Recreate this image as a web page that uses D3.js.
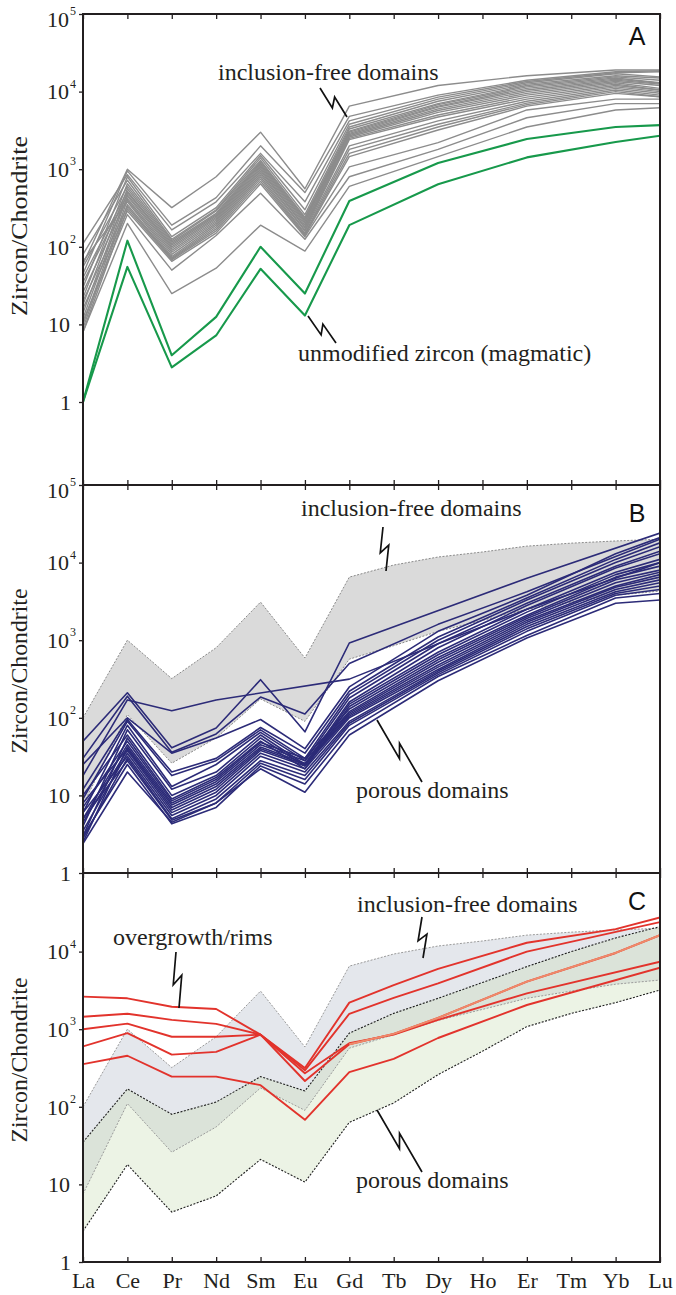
<!DOCTYPE html>
<html>
<head>
<meta charset="utf-8">
<script src="https://cdn.jsdelivr.net/npm/d3@7"></script>
<style>
  body { margin: 0; background: #fff; }
</style>
</head>
<body>
<svg id="viz"></svg>
<script>
// chondrite-normalised REE, element order along the x axis
var ree = ["La","Ce","Pr","Nd","Sm","Eu","Gd","Tb","Dy","Ho","Er","Tm","Yb","Lu"];
var _ = null; // element not plotted for that spot (segment runs straight across)

// panel A - inclusion-free domains (grey)
var inclusionFreeA = [
  [60, 1000, 320, 800, 3000, 560, 6500, _, 12000, _, 16000, _, 19000, 19000],
  [45, 950, 190, 430, 2000, 500, 4800, _, 9000, _, 14000, _, 18000, 18500],
  [110, 850, 165, 380, 1600, 380, 4200, _, 8500, _, 13500, _, 17500, 18000],
  [30, 800, 135, 320, 1500, 300, 3800, _, 8000, _, 13000, _, 17000, 15500],
  [80, 720, 125, 300, 1400, 260, 3500, _, 7500, _, 12500, _, 16000, 15000],
  [22, 650, 120, 290, 1300, 240, 3300, _, 7000, _, 12000, _, 15500, 14000],
  [55, 600, 115, 270, 1250, 230, 3100, _, 6800, _, 11500, _, 15000, 13000],
  [18, 560, 110, 260, 1200, 220, 3000, _, 6500, _, 11000, _, 14500, 12800],
  [40, 520, 105, 250, 1150, 210, 2900, _, 6300, _, 10500, _, 14000, 12500],
  [14, 500, 100, 240, 1100, 200, 2800, _, 6000, _, 10000, _, 13500, 12000],
  [35, 470, 95, 230, 1050, 190, 2700, _, 5700, _, 9500, _, 13000, 11000],
  [12, 450, 90, 220, 1000, 180, 2600, _, 5400, _, 9000, _, 12500, 10500],
  [26, 420, 85, 210, 950, 175, 2500, _, 5000, _, 8500, _, 12000, 10500],
  [10, 400, 80, 200, 900, 165, 2400, _, 4700, _, 8000, _, 11500, 10000],
  [65, 380, 75, 190, 850, 160, 2000, _, 4200, _, 7500, _, 11000, 9500],
  [9, 350, 72, 180, 800, 150, 1800, _, 3800, _, 7100, _, 10500, 9000],
  [20, 330, 70, 170, 750, 145, 1600, _, 3500, _, 6800, _, 10000, 8600],
  [8, 310, 68, 160, 700, 140, 1450, _, 3200, _, 6500, _, 9500, 8600],
  [16, 290, 65, 150, 650, 135, 1070, _, 2200, _, 5800, _, 8000, 8000],
  [11, 260, 50, 140, 490, 125, 800, _, 1800, _, 4600, _, 7000, 7000],
  [8, 200, 25, 53, 190, 88, 600, _, 1450, _, 3500, _, 5800, 6200]
];

// panel A - unmodified (magmatic) zircon (green)
var unmodifiedA = [
  [1, 120, 4, 12.5, 100, 25, 390, _, 1200, _, 2450, _, 3500, 3700],
  [1, 55, 2.8, 7.2, 52, 13, 190, _, 640, _, 1420, _, 2240, 2700]
];

// panel B - porous domains (navy)
var porousB = [
  [18, 170, 123, 170, _, _, 315, _, 900, _, 2500, _, _, 10000],
  [50, 210, 41, 74, 310, 66, 920, _, _, _, 6300, _, _, 24000],
  [30, 190, 36, 62, 185, 112, 500, _, 1600, _, 4200, _, 12000, 20000],
  [25, 100, 35, 55, 95, 40, 250, _, 1300, _, 3800, _, 13000, 21000],
  [12, 95, 20, 30, 75, 35, 220, _, 1100, _, 3500, _, 11000, 18000],
  [9, 90, 18, 28, 70, 30, 200, _, 1000, _, 3300, _, 10000, 16000],
  [6, 80, 13, 25, 65, 28, 180, _, 900, _, 3000, _, 9000, 14000],
  [4, 70, 12, 20, 60, 25, 160, _, 800, _, 2800, _, 8500, 13000],
  [10, 60, 10, 18, 55, 24, 150, _, 700, _, 2500, _, 7500, 11000],
  [3, 55, 9, 17, 50, 22, 140, _, 650, _, 2300, _, 7000, 10000],
  [7, 50, 8.5, 16, 48, 30, 130, _, 600, _, 2100, _, 6500, 9000],
  [5, 45, 8, 15, 45, 28, 120, _, 560, _, 2000, _, 6000, 8000],
  [2.5, 42, 7.5, 14, 42, 26, 115, _, 520, _, 1900, _, 5500, 7500],
  [8, 40, 7, 13, 40, 25, 110, _, 480, _, 1800, _, 5000, 7000],
  [4.5, 38, 6.5, 12, 38, 24, 105, _, 450, _, 1700, _, 4800, 6500],
  [3.5, 35, 6, 11, 35, 22, 100, _, 420, _, 1600, _, 4500, 6000],
  [6, 32, 5.5, 10, 32, 20, 90, _, 400, _, 1500, _, 4200, 5500],
  [2.8, 30, 5, 9, 28, 18, 85, _, 380, _, 1400, _, 4000, 5000],
  [5, 28, 4.8, 8, 26, 16, 80, _, 360, _, 1300, _, 3800, 4500],
  [3, 25, 4.3, 7, 24, 14, 70, _, 340, _, 1150, _, 3500, 4000],
  [2.4, 20, 4.5, 8, 22, 11, 60, _, 300, _, 1070, _, 3000, 3300]
];

// envelopes of the two domain types (panels B and C)
var incFreeUpper = [100, 1000, 320, 800, 3100, 590, 6500, 9300, 11800, 13700, 16300, 17800, 19000, 20000];
var incFreeLower = [7.5, 110, 26, 55, 175, 90, 570, 850, 1300, 1800, 2500, 3100, 3800, 4300];
var porousUpper = [35, 170, 80, 115, 245, 160, 890, 1600, 2500, 4000, 6400, 10000, 15000, 21000];
var porousLower = [2.5, 18, 4.4, 7.1, 21, 10.7, 63, 112, 260, 520, 1080, 1600, 2200, 3200];

// panel C - overgrowth / rims (red)
var rimsC = [
  [2630, 2500, 1950, 1820, 850, 316, 2200, 3700, 6000, _, 13000, _, 19500, 27500],
  [1450, 1580, 1320, 1170, 850, 295, 1580, 2530, 3900, _, 10000, _, _, 24000],
  [1000, 1180, 800, 800, 850, 270, 660, 850, 1320, _, 2900, _, _, 7400],
  [600, 890, 470, 510, 850, 215, 640, 870, 1400, _, 4100, _, 9600, 16300],
  [355, 455, 245, 245, 190, 68, 280, 415, 770, _, 2050, _, _, 6200]
];
var salmonRim = 3;        // this rim is drawn lighter from Gd on
var salmonFrom = "Gd";

var yTicksA = [1e5, 1e4, 1e3, 100, 10, 1];
var yTicksB = [1e5, 1e4, 1e3, 100, 10, 1];
var yTicksC = [1e4, 1e3, 100, 10, 1];

var SERIF = "'Liberation Serif', 'DejaVu Serif', serif";
var SANS = "'Liberation Sans', Arial, sans-serif";

var width = 676, height = 1295;
var LEFT = 83, RIGHT = 660;

var svg = d3.select("#viz").attr("width", width).attr("height", height)
    .attr("font-family", SERIF);
svg.append("rect").attr("width", width).attr("height", height).attr("fill", "#fff");

var x = d3.scalePoint().domain(ree).range([LEFT, RIGHT]);

function series(vals) {
    return vals.map(function(v, i) { return {el: ree[i], v: v}; })
               .filter(function(d) { return d.v != null; });
}

var panels = [
    {id: "A", top: 14, bottom: 485, one: 402, ticks: yTicksA, title: [27, 226], titleSize: 24, titleLen: 180},
    {id: "B", top: 485, bottom: 873, one: 873, ticks: yTicksB, title: [27, 671], titleSize: 23, titleLen: 165},
    {id: "C", top: 873, bottom: 1262, one: 1262, ticks: yTicksC, title: [27, 1060], titleSize: 23, titleLen: 165}
];

panels.forEach(function(p) {
    p.y = d3.scaleLog().domain([1, 1e5]).range([p.one, p.one - 5 * 77.6]);
    p.line = d3.line().x(function(d) { return x(d.el); }).y(function(d) { return p.y(d.v); });
    p.g = svg.append("g").attr("class", "panel-" + p.id);
    svg.append("clipPath").attr("id", "clip" + p.id)
        .append("rect").attr("x", LEFT).attr("y", p.top)
        .attr("width", RIGHT - LEFT).attr("height", p.bottom - p.top);
    p.plot = p.g.append("g").attr("clip-path", "url(#clip" + p.id + ")");
});

var A = panels[0], B = panels[1], C = panels[2];

// ---- panel A
A.plot.append("g").selectAll("path")
    .data(inclusionFreeA).join("path")
    .attr("d", function(d) { return A.line(series(d)); })
    .attr("fill", "none").attr("stroke", "#8c8c8c").attr("stroke-width", 1.4)
    .attr("stroke-linejoin", "round");

A.plot.append("g").selectAll("path")
    .data(unmodifiedA).join("path")
    .attr("d", function(d) { return A.line(series(d)); })
    .attr("fill", "none").attr("stroke", "#17994b").attr("stroke-width", 2.1)
    .attr("stroke-linejoin", "round");

// ---- envelopes
function band(p, upper, lower) {
    return d3.area()
        .x(function(d, i) { return x(ree[i]); })
        .y0(function(d, i) { return p.y(lower[i]); })
        .y1(function(d, i) { return p.y(upper[i]); })(upper);
}
function edge(p, vals) { return p.line(series(vals)); }

// ---- panel B
B.plot.append("path").attr("d", band(B, incFreeUpper, incFreeLower)).attr("fill", "#dadada");
[incFreeUpper, incFreeLower].forEach(function(v) {
    B.plot.append("path").attr("d", edge(B, v)).attr("fill", "none")
        .attr("stroke", "#8a8a8a").attr("stroke-width", 1).attr("stroke-dasharray", "2,1.5");
});
B.plot.append("g").selectAll("path")
    .data(porousB).join("path")
    .attr("d", function(d) { return B.line(series(d)); })
    .attr("fill", "none").attr("stroke", "#2c2b78").attr("stroke-width", 1.6)
    .attr("stroke-linejoin", "round");

// ---- panel C
C.plot.append("path").attr("d", band(C, incFreeUpper, incFreeLower)).attr("fill", "#e4e7ec");
// translucent green so the overlap with the inclusion-free field turns greener
C.plot.append("path").attr("d", band(C, porousUpper, porousLower))
    .attr("fill", "#c9dfb6").attr("fill-opacity", 0.36);
[incFreeUpper, incFreeLower].forEach(function(v) {
    C.plot.append("path").attr("d", edge(C, v)).attr("fill", "none")
        .attr("stroke", "#9a9a9a").attr("stroke-width", 1).attr("stroke-dasharray", "2,1.5");
});
[porousUpper, porousLower].forEach(function(v) {
    C.plot.append("path").attr("d", edge(C, v)).attr("fill", "none")
        .attr("stroke", "#1e1e1e").attr("stroke-width", 1.1).attr("stroke-dasharray", "2,1.5");
});
C.plot.append("g").selectAll("path")
    .data(rimsC).join("path")
    .attr("d", function(d) { return C.line(series(d)); })
    .attr("fill", "none").attr("stroke", "#e2332c").attr("stroke-width", 1.9)
    .attr("stroke-linejoin", "round");
var salmonPts = series(rimsC[salmonRim]).filter(function(d) { return ree.indexOf(d.el) >= ree.indexOf(salmonFrom); });
C.plot.append("path").attr("d", C.line(salmonPts))
    .attr("fill", "none").attr("stroke", "#ef8a6a").attr("stroke-width", 1.9);

// ---- frames, ticks, labels
function styleAxis(a) {
    a.select(".domain").remove();
    a.selectAll("line").attr("stroke", "#231f20").attr("stroke-width", 1.3);
}

panels.forEach(function(p) {
    var g = p.g;
    g.append("g").attr("transform", "translate(0," + p.bottom + ")")
        .call(d3.axisBottom(x).tickSize(-5).tickFormat("")).call(styleAxis);
    g.append("g").attr("transform", "translate(0," + p.top + ")")
        .call(d3.axisTop(x).tickSize(-5).tickFormat("")).call(styleAxis);
    g.append("g").attr("transform", "translate(" + LEFT + ",0)")
        .call(d3.axisLeft(p.y).tickValues(p.ticks).tickSize(4).tickFormat("")).call(styleAxis);

    g.append("rect").attr("x", LEFT).attr("y", p.top)
        .attr("width", RIGHT - LEFT).attr("height", p.bottom - p.top)
        .attr("fill", "none").attr("stroke", "#231f20").attr("stroke-width", 2);

    p.ticks.forEach(function(v) {
        var e = Math.round(Math.log10(v));
        var ty = p.y(v);
        if (ty < p.top + 4) ty = p.top + 5;
        if (e >= 2) {
            g.append("text").attr("x", 69).attr("y", ty).attr("dy", "0.35em")
                .attr("text-anchor", "end").attr("font-size", 22).attr("fill", "#231f20").text("10");
            g.append("text").attr("x", 70).attr("y", ty - 4)
                .attr("font-size", 12).attr("fill", "#231f20").text(e);
        } else {
            g.append("text").attr("x", e == 1 ? 70 : 71).attr("y", ty).attr("dy", "0.35em")
                .attr("text-anchor", "end").attr("font-size", 22).attr("fill", "#231f20")
                .text(e == 1 ? "10" : "1");
        }
    });

    g.append("text")
        .attr("transform", "translate(" + p.title[0] + "," + p.title[1] + ") rotate(-90)")
        .attr("text-anchor", "middle").attr("font-size", p.titleSize).attr("fill", "#231f20")
        .attr("textLength", p.titleLen).attr("lengthAdjust", "spacingAndGlyphs")
        .text("Zircon/Chondrite");

    g.append("text").attr("x", 637).attr("y", p.top + (p.id == "A" ? 31 : 37))
        .attr("text-anchor", "middle").attr("font-size", 25).attr("fill", "#111")
        .attr("font-family", SANS)
        .text(p.id);
});

// element names under the last panel
svg.append("g").attr("transform", "translate(0," + C.bottom + ")")
    .call(d3.axisBottom(x).tickSize(0).tickPadding(10))
    .call(function(a) {
        a.select(".domain").remove();
        a.attr("font-family", SERIF).attr("font-size", 22);
        a.selectAll("text").attr("fill", "#231f20");
    });

// ---- annotations with broken leader lines
function zig(x0, y0, x1, y1) {
    var dx = x1 - x0, dy = y1 - y0, len = Math.hypot(dx, dy);
    var px = -dy / len * 4.5, py = dx / len * 4.5;
    var a = [x0 + dx * 0.58 + px, y0 + dy * 0.58 + py];
    var b = [x0 + dx * 0.42 - px, y0 + dy * 0.42 - py];
    return "M" + x0 + "," + y0 + "L" + a + "L" + b + "L" + x1 + "," + y1;
}

var notes = [
    {t: "inclusion-free domains", x: 218, y: 80, leader: [320, 88, 347, 117]},
    {t: "unmodified zircon (magmatic)", x: 298, y: 361, leader: [308, 316, 336, 343]},
    {t: "inclusion-free domains", x: 301, y: 516, leader: [383, 527, 386, 571]},
    {t: "porous domains", x: 356, y: 798, leader: [377, 720, 422, 782]},
    {t: "overgrowth/rims", x: 113, y: 945, leader: [176, 952, 179, 1008]},
    {t: "inclusion-free domains", x: 357, y: 912, leader: [422, 917, 423, 958]},
    {t: "porous domains", x: 356, y: 1188, leader: [377, 1110, 422, 1172]}
];

svg.append("g").selectAll("text").data(notes).join("text")
    .attr("x", function(d) { return d.x; }).attr("y", function(d) { return d.y; })
    .attr("font-size", 24).attr("fill", "#231f20").text(function(d) { return d.t; });

svg.append("g").selectAll("path").data(notes).join("path")
    .attr("d", function(d) { return zig.apply(null, d.leader); })
    .attr("fill", "none").attr("stroke", "#111").attr("stroke-width", 1.7)
    .attr("stroke-linejoin", "miter");
</script>
</body>
</html>
